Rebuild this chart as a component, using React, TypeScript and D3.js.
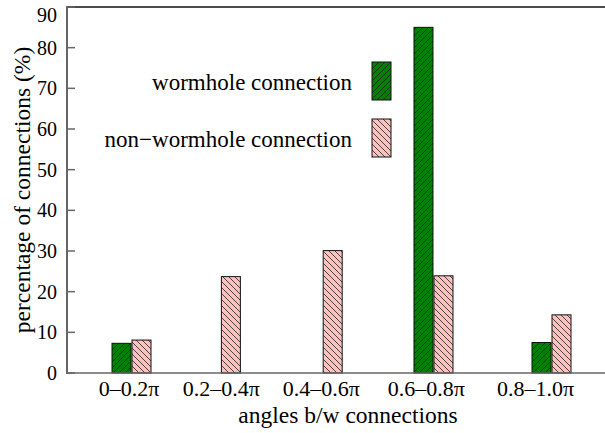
import React, { useEffect, useRef } from 'react';
import * as d3 from 'd3';

// angle bins (π shown as text)
const categories = ['0–0.2π', '0.2–0.4π', '0.4–0.6π', '0.6–0.8π', '0.8–1.0π'];
const wormholeValues = [7.3, 0, 0, 85.0, 7.5];
const nonWormholeValues = [8.1, 23.7, 30.1, 23.9, 14.3];
const yTicks = [0, 10, 20, 30, 40, 50, 60, 70, 80, 90];
const seriesNames = ['wormhole connection', 'non−wormhole connection'];

const width = 605;
const height = 433;
const fontFamily = '"Liberation Serif", "Times New Roman", serif';
const tickFont = 20;
const labelFont = 22;
const titleFont = 23.5;
const legendFont = 23;

function App() {
  const ref = useRef<SVGSVGElement>(null);

  useEffect(() => {
    if (!ref.current) return;
    const svg: any = d3.select(ref.current);
    svg.selectAll('*').remove();

    const plotLeft = 67;
    const plotTop = 7;
    const plotBottom = 373;

    const y = d3.scaleLinear().domain([0, 90]).range([plotBottom, plotTop]);
    // group spacing in the original widens to the right
    const xGroup = d3.scalePow().exponent(1.25).domain([1, 5]).range([131.5, 551.5]);
    const xLabel = d3.scalePow().exponent(1.15).domain([1, 5]).range([129, 535.5]);
    const barW = 19;

    const defs = svg.append('defs');
    const addHatch = (id: string, fill: string, forward: boolean) => {
      const p = defs.append('pattern')
        .attr('id', id)
        .attr('patternUnits', 'userSpaceOnUse')
        .attr('width', 6)
        .attr('height', 6);
      p.append('rect').attr('width', 6).attr('height', 6).attr('fill', fill);
      p.append('path')
        .attr('d', forward
          ? 'M0,6 L6,0 M-1,1 L1,-1 M5,7 L7,5'
          : 'M0,0 L6,6 M-1,5 L1,7 M5,-1 L7,1')
        .attr('stroke', '#222')
        .attr('stroke-width', 0.8);
    };
    addHatch('hatch-green', '#008000', true);
    addHatch('hatch-pink', '#ffc0c0', false);

    // frame: top line, left and bottom axes
    svg.append('line')
      .attr('x1', plotLeft).attr('x2', width)
      .attr('y1', plotTop).attr('y2', plotTop)
      .style('stroke', '#111').style('stroke-width', 1.5);

    const g = svg.append('g');

    const bars = categories.map((c, i) => ({ i, c, w: wormholeValues[i], n: nonWormholeValues[i] }));

    g.selectAll('.bar-w')
      .data(bars.filter(d => d.w > 0))
      .enter()
      .append('rect')
      .attr('class', 'bar-w')
      .attr('x', (d: any) => xGroup(d.i + 1) - barW - 0.5)
      .attr('y', (d: any) => y(d.w))
      .attr('width', barW)
      .attr('height', (d: any) => y(0) - y(d.w))
      .attr('fill', 'url(#hatch-green)')
      .attr('stroke', '#111')
      .attr('stroke-width', 1);

    g.selectAll('.bar-n')
      .data(bars.filter(d => d.n > 0))
      .enter()
      .append('rect')
      .attr('class', 'bar-n')
      .attr('x', (d: any) => xGroup(d.i + 1) + 0.5)
      .attr('y', (d: any) => y(d.n))
      .attr('width', barW)
      .attr('height', (d: any) => y(0) - y(d.n))
      .attr('fill', 'url(#hatch-pink)')
      .attr('stroke', '#111')
      .attr('stroke-width', 1);

    svg.append('line')
      .attr('x1', plotLeft).attr('x2', width)
      .attr('y1', plotBottom).attr('y2', plotBottom)
      .style('stroke', '#666').style('stroke-width', 1.5);
    svg.append('line')
      .attr('x1', plotLeft).attr('x2', plotLeft)
      .attr('y1', plotTop - 1).attr('y2', plotBottom + 1)
      .style('stroke', '#666').style('stroke-width', 2);

    // y ticks (inward) and labels
    const yt = svg.selectAll('.y-tick')
      .data(yTicks)
      .enter()
      .append('g')
      .attr('class', 'y-tick');
    yt.append('line')
      .attr('x1', plotLeft).attr('x2', plotLeft + 8)
      .attr('y1', (d: number) => y(d)).attr('y2', (d: number) => y(d))
      .style('stroke', '#666').style('stroke-width', 1.5);
    yt.append('text')
      .attr('x', plotLeft - 10)
      .attr('y', (d: number) => Math.max(y(d), 15))
      .attr('dy', '0.35em')
      .attr('text-anchor', 'end')
      .style('font-family', fontFamily)
      .style('font-size', tickFont + 'px')
      .text((d: number) => d);

    // x labels
    svg.selectAll('.x-label')
      .data(categories)
      .enter()
      .append('text')
      .attr('class', 'x-label')
      .attr('x', (d: string, i: number) => xLabel(i + 1))
      .attr('y', 396)
      .attr('text-anchor', 'middle')
      .style('font-family', fontFamily)
      .style('font-size', labelFont + 'px')
      .text((d: string) => d);

    svg.append('text')
      .attr('x', 348)
      .attr('y', 423)
      .attr('text-anchor', 'middle')
      .style('font-family', fontFamily)
      .style('font-size', titleFont + 'px')
      .text('angles b/w connections');

    svg.append('text')
      .attr('transform', `translate(30, 190) rotate(-90)`)
      .attr('text-anchor', 'middle')
      .style('font-family', fontFamily)
      .style('font-size', titleFont + 'px')
      .text('percentage of connections (%)');

    // legend
    const legend = svg.selectAll('.legend')
      .data(seriesNames)
      .enter()
      .append('g')
      .attr('class', 'legend')
      .attr('transform', (d: string, i: number) => `translate(0, ${81 + i * 57})`);
    legend.append('rect')
      .attr('x', 372)
      .attr('y', -19)
      .attr('width', barW)
      .attr('height', 38)
      .attr('fill', (d: string, i: number) => i === 0 ? 'url(#hatch-green)' : 'url(#hatch-pink)')
      .attr('stroke', '#111')
      .attr('stroke-width', 1);
    legend.append('text')
      .attr('x', 352)
      .attr('y', 9)
      .attr('text-anchor', 'end')
      .style('font-family', fontFamily)
      .style('font-size', legendFont + 'px')
      .text((d: string) => d);
  }, []);

  return (
    <div style={{ position: 'absolute', left: 0, top: 0, width, height, background: '#fff' }}>
      <svg ref={ref} width={width} height={height}></svg>
    </div>
  );
}

export default App;
